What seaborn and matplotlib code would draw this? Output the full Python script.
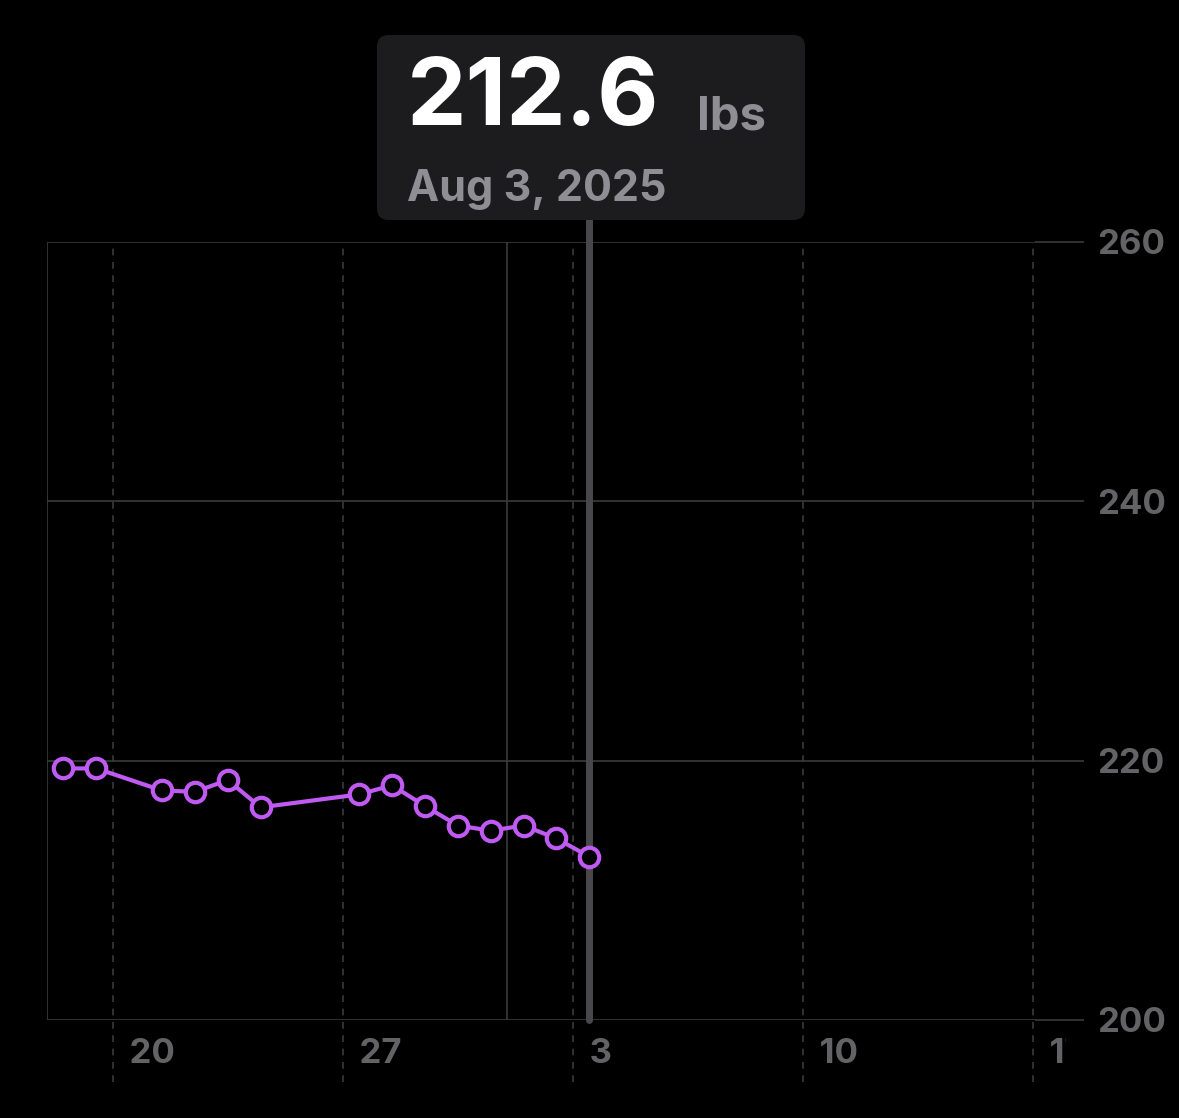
import pandas as pd
import matplotlib
matplotlib.use("Agg")
import matplotlib.pyplot as plt
import matplotlib.dates as mdates
import matplotlib.transforms as mtransforms
from matplotlib.patches import FancyBboxPatch
import seaborn as sns

# readings (noon of each day)
dates = ["2025-07-18", "2025-07-19", "2025-07-21", "2025-07-22", "2025-07-23",
         "2025-07-24", "2025-07-27", "2025-07-28", "2025-07-29", "2025-07-30",
         "2025-07-31", "2025-08-01", "2025-08-02", "2025-08-03"]
weights = [219.4, 219.4, 217.7, 217.6, 218.5, 216.4, 217.4, 218.1, 216.5,
           215.0, 214.6, 215.0, 214.0, 212.6]
week_ticks = ["2025-07-20", "2025-07-27", "2025-08-03", "2025-08-10", "2025-08-17"]
week_labels = ["20", "27", "3", "10", "17"]
y_ticks = [200, 220, 240, 260]

df = pd.DataFrame({"date": pd.to_datetime(dates) + pd.Timedelta(hours=12),
                   "weight": weights})

sns.set_theme(style="dark")
plt.rcParams["font.family"] = ["Inter", "DejaVu Sans"]

W, H = 1179, 1118
fig = plt.figure(figsize=(W / 100, H / 100), dpi=100, facecolor="black")
ax = fig.add_axes([47 / W, (H - 1020) / H, (1035 - 47) / W, (1020 - 242) / H])
ax.set_facecolor("black")

purple = "#bf5af2"
grid = "#3a3a3c"
label_col = "#636366"

sns.lineplot(data=df, x="date", y="weight", ax=ax, color=purple, lw=3,
             marker="o", markersize=14, markerfacecolor="black",
             markeredgecolor=purple, markeredgewidth=3, zorder=5)

x0 = mdates.date2num(pd.Timestamp("2025-07-18"))
x1 = mdates.date2num(pd.Timestamp("2025-08-17 01:30"))
ax.set_xlim(x0, x1)
ax.set_ylim(200, 260)
ax.set_xlabel("")
ax.set_ylabel("")

for s in ax.spines.values():
    s.set_visible(False)
ax.axvline(x0, color=grid, lw=1.2)

# horizontal grid + right labels
ax.set_yticks(y_ticks)
ax.yaxis.tick_right()
ax.tick_params(axis="y", length=35, width=1.2, color=grid, pad=10,
               labelsize=25, labelcolor=label_col)
for t in ax.get_yticklabels():
    t.set_fontweight("bold")
for v in y_ticks:
    ax.axhline(v, color=grid, lw=1.2)

# weekly dashed lines + labels
ax.set_xticks([])
tr = mtransforms.blended_transform_factory(ax.transData, ax.transAxes)
clip = mtransforms.Bbox.from_extents(0, 0, 1066, H)
for d, lab in zip(week_ticks, week_labels):
    xv = mdates.date2num(pd.Timestamp(d))
    ax.plot([xv, xv], [-0.08, 1], transform=tr, color=grid, lw=1.2,
            ls=(0, (4, 4)), clip_on=False)
    t = ax.text(xv, -0.044, "  " + lab, transform=tr, ha="left", va="center",
                fontsize=25, fontweight="bold", color=label_col, clip_on=False)
    t.set_clip_box(clip)
    t.set_clip_on(True)

# month boundary
ax.axvline(mdates.date2num(pd.Timestamp("2025-08-01")), color=grid, lw=1.2)

# selection cursor
sel = df["date"].iloc[-1]
ax.plot([mdates.date2num(sel)] * 2, [0, 1.028], transform=tr, color="#48484a",
        lw=5, clip_on=False, zorder=4)

# tooltip
box = FancyBboxPatch((377 / W, (H - 220) / H), 428 / W, 185 / H,
                     boxstyle="round,pad=0,rounding_size=0.01",
                     transform=fig.transFigure, facecolor="#1c1c1e",
                     edgecolor="none")
fig.patches.append(box)
fig.text(407 / W, (H - 100) / H, "212.6", fontsize=68, fontweight="bold",
         color="white", va="center", ha="left")
fig.text(697 / W, (H - 118) / H, "lbs", fontsize=34, fontweight="bold",
         color="#8e8e93", va="center", ha="left")
fig.text(407 / W, (H - 189) / H, "Aug 3, 2025", fontsize=31, fontweight="bold",
         color="#8e8e93", va="center", ha="left")

fig.savefig("out.png", dpi=100, facecolor="black")
